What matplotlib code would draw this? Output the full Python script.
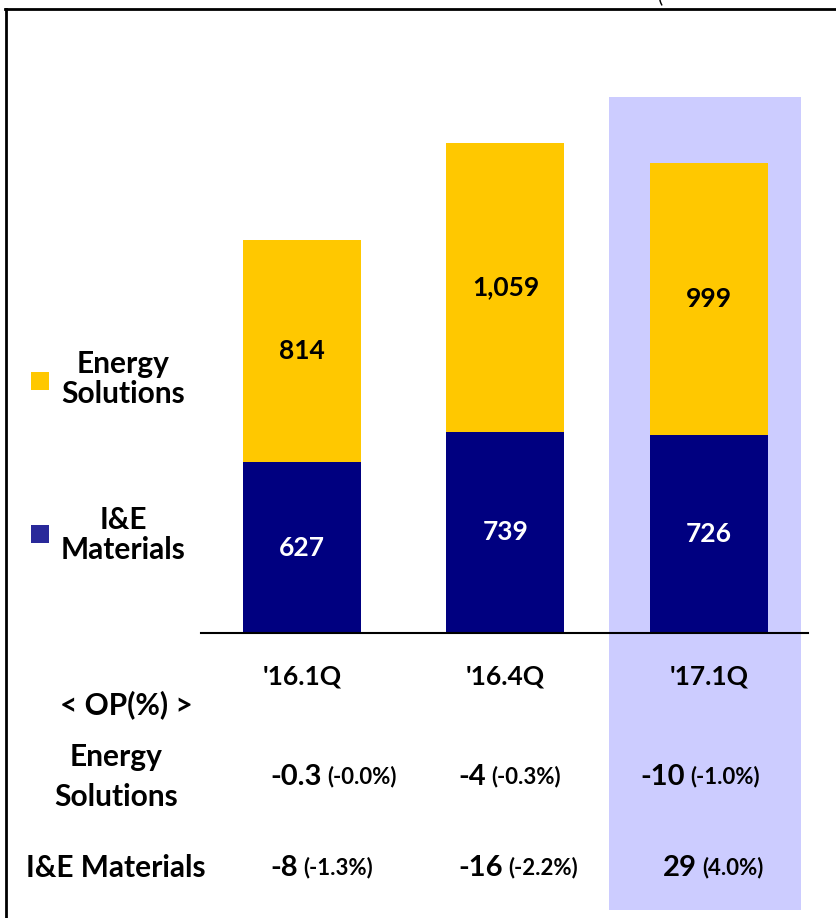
import matplotlib
matplotlib.use("Agg")
import matplotlib.pyplot as plt
from matplotlib.patches import Rectangle
from matplotlib.lines import Line2D

# data
categories = ["'16.1Q", "'16.4Q", "'17.1Q"]
ie_materials = [627, 739, 726]
energy_solutions = [814, 1059, 999]
op_energy = [-0.3, -4, -10]
op_energy_pct = [-0.0, -0.3, -1.0]
op_ie = [-8, -16, 29]
op_ie_pct = [-1.3, -2.2, 4.0]

W, H = 837, 918
YELLOW = "#FFC800"
NAVY = "#000080"
plt.rcParams["font.family"] = ["Lato", "DejaVu Sans"]
plt.rcParams["font.weight"] = "bold"


def px(x, y):
    """pixel (from top-left) -> figure fraction"""
    return x / W, 1 - y / H


fig = plt.figure(figsize=(W / 100, H / 100), dpi=100)
ax = fig.add_axes([0, 0, 1, 1])
ax.axis("off")
ax.patch.set_alpha(0)

# scales: bar centres at 302/506/709 px, zero line at 633 px
k = 0.2725        # px per unit
dx = 203.5        # px per category
ax.set_xlim(-302 / dx, (W - 302) / dx)
ax.set_ylim(-(H - 633) / k, 633 / k)

# highlight on latest quarter
x0, y0 = px(609, 910)
x1, y1 = px(801, 97)
fig.add_artist(Rectangle((x0, y0), x1 - x0, y1 - y0, transform=fig.transFigure,
                         facecolor="#CCCCFF", edgecolor="none", zorder=-1))

xs = range(len(categories))
bw = 118 / dx
ax.bar(xs, ie_materials, width=bw, color=NAVY, zorder=2)
ax.bar(xs, energy_solutions, width=bw, bottom=ie_materials, color=YELLOW, zorder=2)
ax.plot([(201 - 302) / dx, (808 - 302) / dx], [0, 0], color="black", lw=1.5, zorder=3)

cat_y = px(0, 677)[1]
for i in xs:
    ax.text(i, ie_materials[i] / 2, f"{ie_materials[i]:,}", ha="center", va="center",
            color="white", fontsize=19, zorder=4)
    ax.text(i, ie_materials[i] + energy_solutions[i] / 2, f"{energy_solutions[i]:,}",
            ha="center", va="center", color="black", fontsize=19, zorder=4)
    fig.text(ax.transData.transform((i, 0))[0] / W, cat_y, categories[i],
             ha="center", va="center", fontsize=19)

# legend
for (cx, cy), col, lab, ty in [((40, 381), YELLOW, "Energy\nSolutions", 379),
                                ((40, 534), "#29299A", "I&E\nMaterials", 535)]:
    a, b = px(cx - 9, cy + 9)
    fig.add_artist(Rectangle((a, b), 18 / W, 18 / H, transform=fig.transFigure,
                             facecolor=col, edgecolor="none"))
    fig.text(*px(123, ty), lab, ha="center", va="center", fontsize=21.5,
             linespacing=1.05)

# OP table
fig.text(*px(126, 705), "< OP(%) >", ha="center", va="center", fontsize=21.5)
fig.text(*px(116, 777), "Energy\nSolutions", ha="center", va="center", fontsize=21.5,
         linespacing=1.5)
fig.text(*px(116, 868), "I&E Materials", ha="center", va="center", fontsize=21.5)

rows = [(777, [270, 458, 640], op_energy, op_energy_pct),
        (868, [270, 458, 663], op_ie, op_ie_pct)]
for ry, lefts, vals, pcts in rows:
    for lx, v, p in zip(lefts, vals, pcts):
        t = fig.text(*px(lx, ry), f"{v:g}", ha="left", va="center", fontsize=21)
        ax.annotate(f"({p:.1f}%)", xy=(1, 0), xycoords=t, xytext=(4, 2),
                    textcoords="offset points", ha="left", va="bottom", fontsize=16)

# frame lines and clipped title fragment
fig.add_artist(Line2D([6 / W, 6 / W], [0, 1 - 9 / H], transform=fig.transFigure,
                      color="black", lw=2))
fig.add_artist(Line2D([5 / W, 1], [1 - 9 / H, 1 - 9 / H], transform=fig.transFigure,
                      color="black", lw=2))
fig.text(*px(660, 5), "(", ha="center", va="bottom", fontsize=14, weight="normal")

fig.savefig("out.png", dpi=100)
